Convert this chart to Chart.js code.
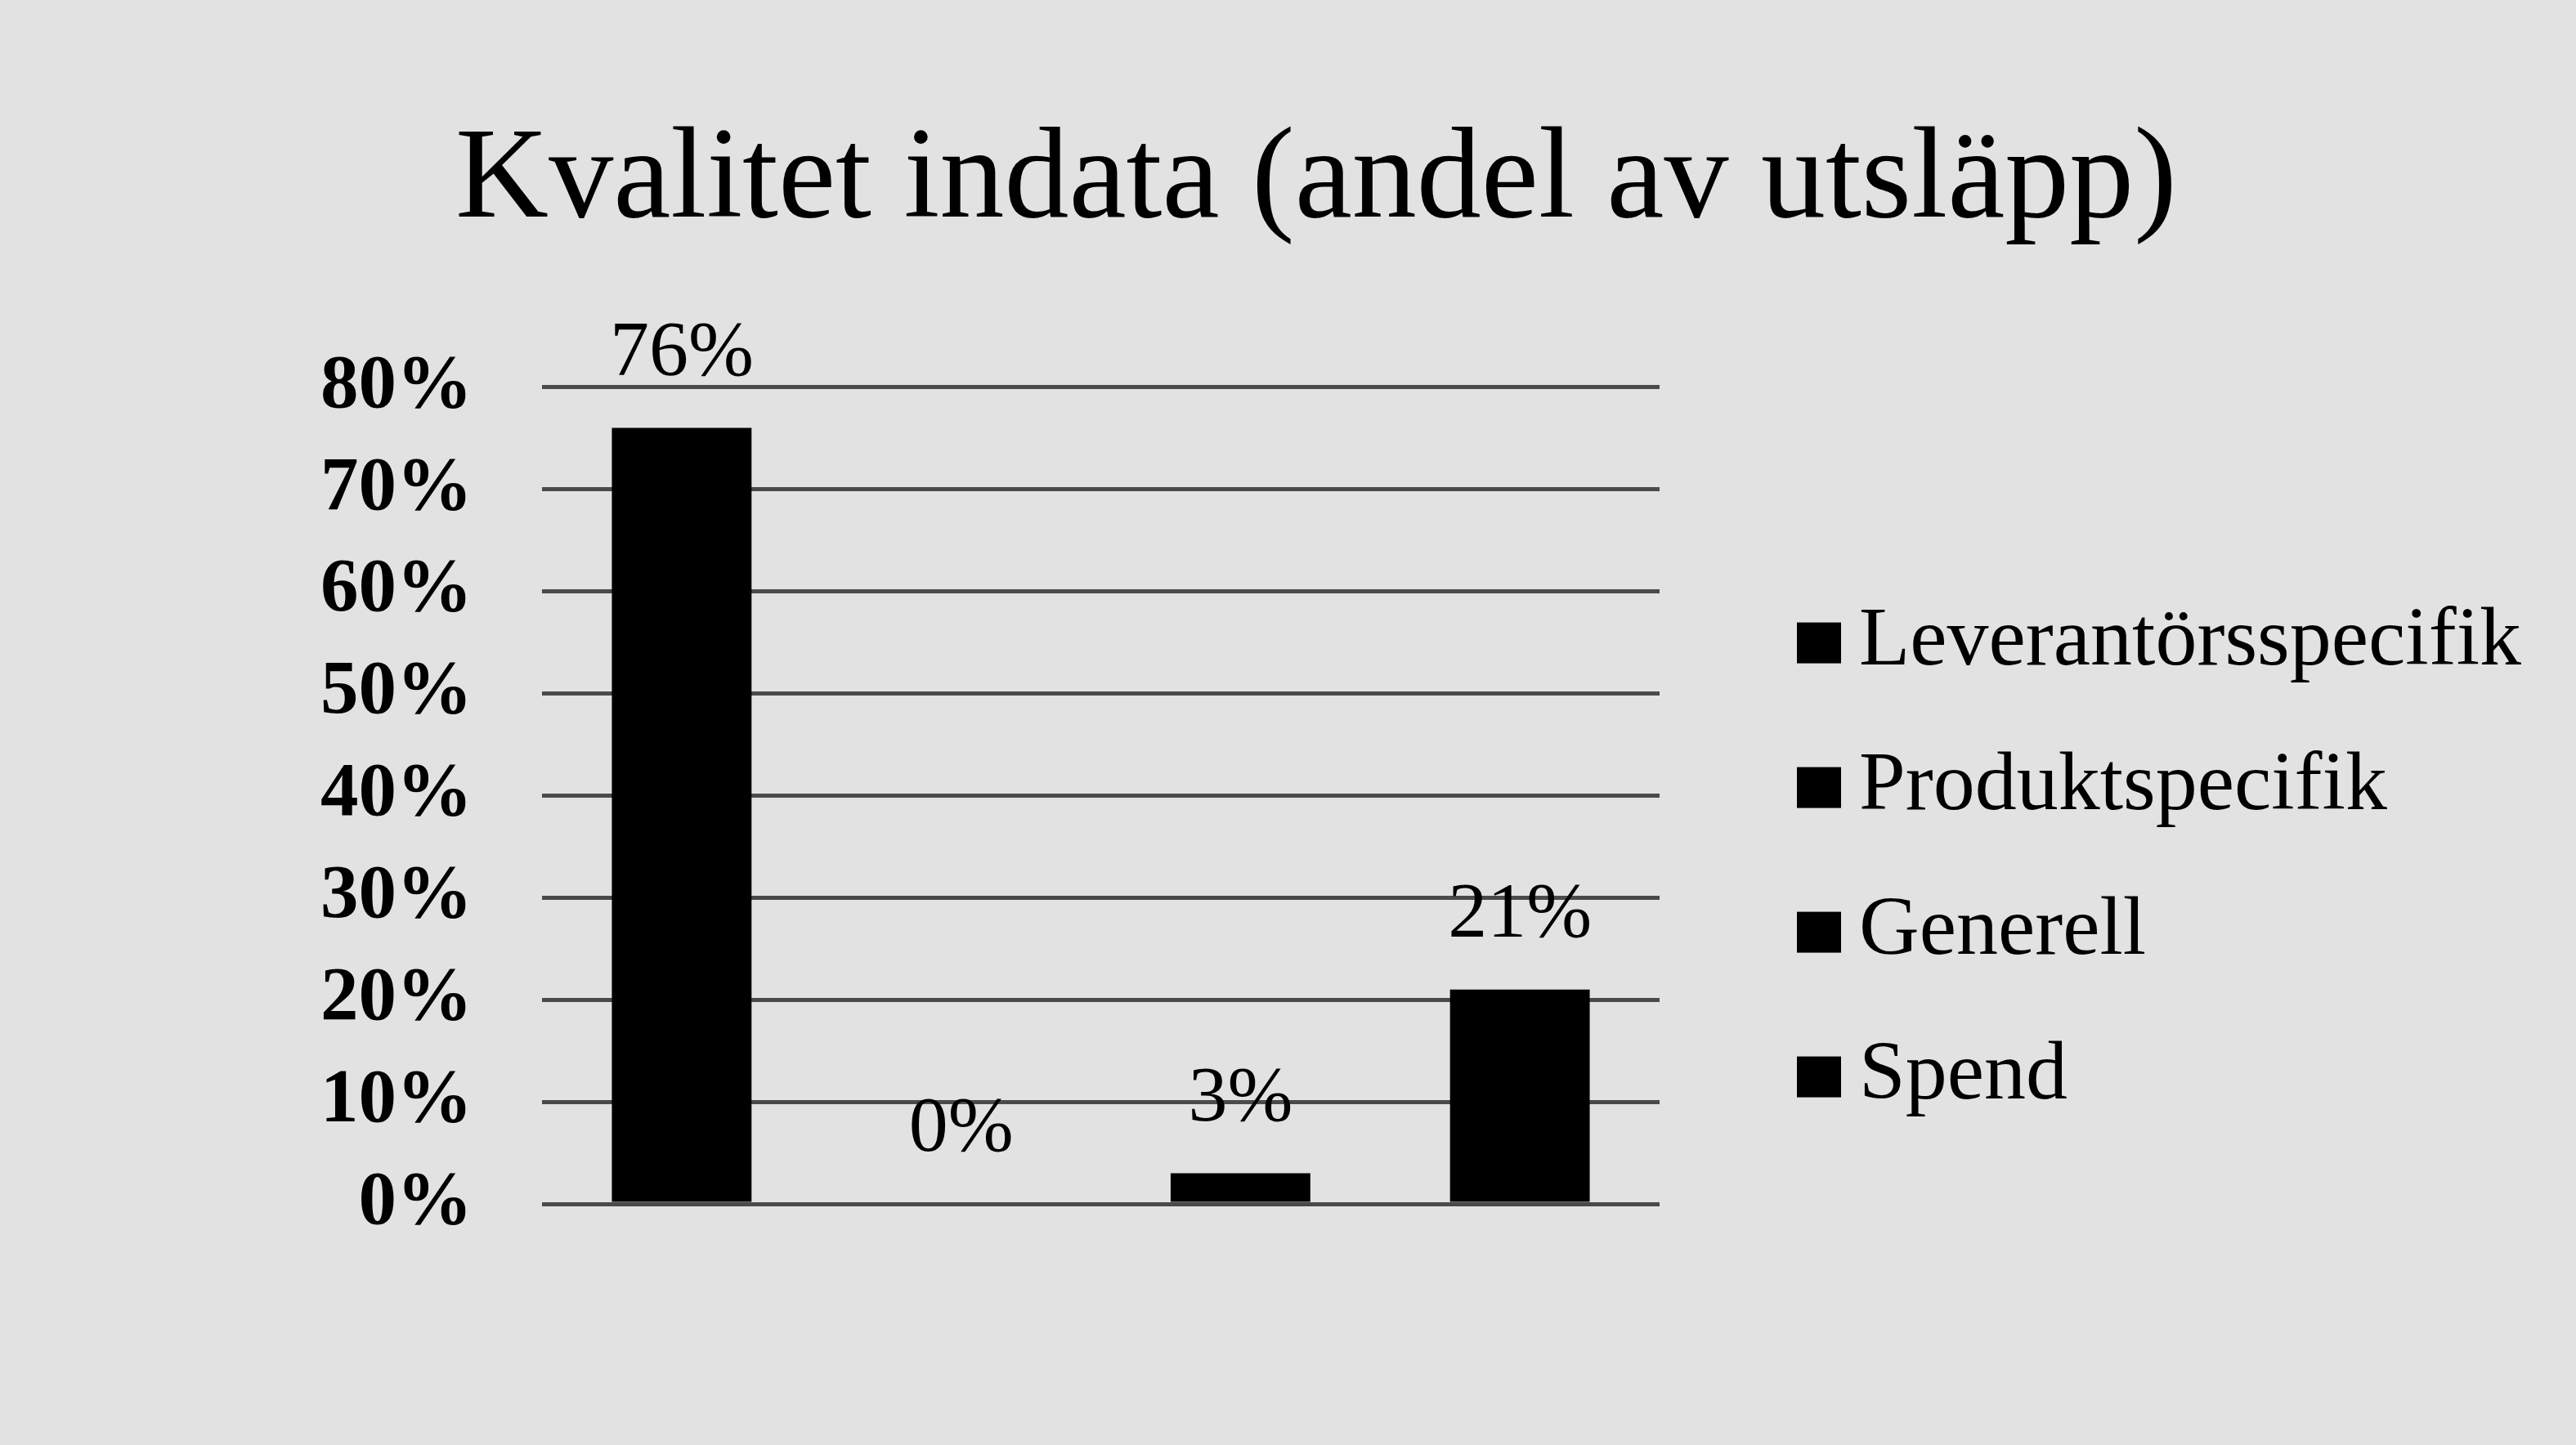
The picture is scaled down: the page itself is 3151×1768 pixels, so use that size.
<!DOCTYPE html>
<html>
<head>
<meta charset="utf-8">
<script src="https://cdn.jsdelivr.net/npm/chart.js@4.4.1/dist/chart.umd.min.js"></script>
<style>
  html, body { margin: 0; padding: 0; background: #e2e2e2; }
  #wrap { width: 3151px; height: 1768px; position: relative; }
</style>
</head>
<body>
<div id="wrap"><canvas id="kvalitet"></canvas></div>
<script>
// Data ---------------------------------------------------------------

const categories = ['Leverantörsspecifik', 'Produktspecifik', 'Generell', 'Spend'];
const shares = [76, 0, 3, 21]; // andel av utsläpp, %
const yTicks = [0, 10, 20, 30, 40, 50, 60, 70, 80];

const serif = "'Liberation Serif', 'DejaVu Serif', serif";

// value labels above the bars
const barLabels = {
  id: 'barLabels',
  afterDatasetsDraw(chart) {
    const ctx = chart.ctx;
    const meta = chart.getDatasetMeta(0);
    ctx.save();
    ctx.font = '96px ' + serif;
    ctx.fillStyle = '#000';
    ctx.textAlign = 'center';
    ctx.textBaseline = 'alphabetic';
    meta.data.forEach((bar, i) => {
      ctx.fillText(shares[i] + '%', bar.x, bar.y - 65);
    });
    ctx.restore();
  }
};

// legend to the right of the plot (one entry per category)
const sideLegend = {
  id: 'sideLegend',
  afterDraw(chart) {
    const ctx = chart.ctx;
    const area = chart.chartArea;
    const x = area.right + 168;
    ctx.save();
    ctx.font = '102px ' + serif;
    ctx.fillStyle = '#000';
    ctx.textAlign = 'left';
    ctx.textBaseline = 'middle';
    categories.forEach((c, i) => {
      const y = area.top + 313 + i * 177;
      ctx.fillRect(x, y - 25, 54, 50);
      ctx.fillText(c, x + 76, y);
    });
    ctx.restore();
  }
};

const data = {
  labels: categories,
  datasets: [{
    label: 'Andel av utsläpp',
    data: shares,
    backgroundColor: '#000',
    borderWidth: 0,
    barPercentage: 0.5,
    categoryPercentage: 1
  }]
};

const config = {
  type: 'bar',
  data,
  options: {
    responsive: true,
    maintainAspectRatio: false,
    animation: false,
    layout: { padding: { left: 363, right: 294, top: 0, bottom: 295 } },
    scales: {
      x: { display: false },
      y: {
        min: 0,
        max: 80,
        afterBuildTicks: (s) => { s.ticks = yTicks.map(v => ({ value: v })); },
        afterFit: (s) => { s.width = 300; },
        border: { display: false },
        grid: { color: '#4a4a4a', lineWidth: 5, drawTicks: false },
        ticks: {
          padding: 85,
          color: '#000',
          font: { family: serif, size: 93, weight: 'bold' },
          callback: (v) => v + '%'
        }
      },
      // empty room for the legend
      gap: {
        type: 'linear',
        position: 'right',
        display: true,
        grid: { display: false },
        border: { display: false },
        ticks: { display: false },
        afterFit: (s) => { s.width = 827; }
      }
    },
    plugins: {
      title: {
        display: true,
        text: 'Kvalitet indata (andel av utsläpp)',
        color: '#000',
        font: { family: serif, size: 158, weight: 'normal' },
        padding: { top: 129, bottom: 155 }
      },
      legend: { display: false },
      tooltip: { enabled: false }
    }
  },
  plugins: [barLabels, sideLegend]
};

const chart = new Chart(document.getElementById('kvalitet'), config);
</script>
</body>
</html>
